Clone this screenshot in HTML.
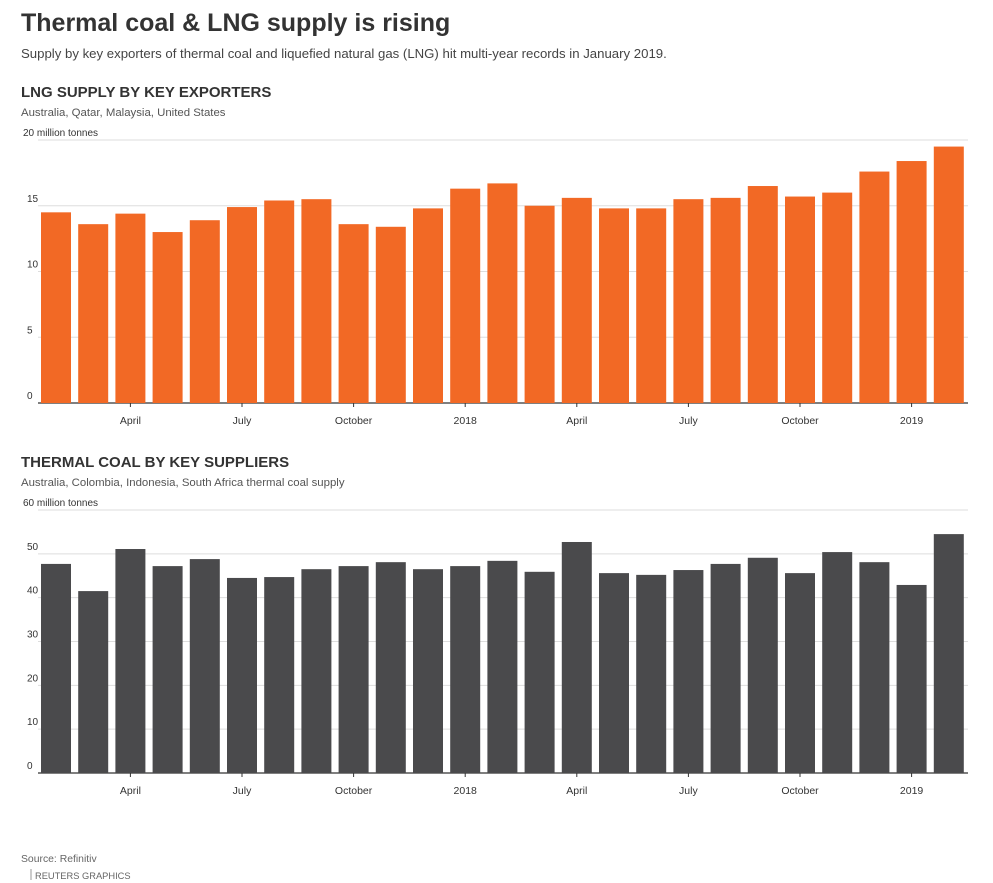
<!DOCTYPE html>
<html><head><meta charset="utf-8">
<style>
body{margin:0;background:#fff;font-family:"Liberation Sans",sans-serif;color:#333;}
svg{display:block}
</style></head>
<body>
<svg id="c" width="993" height="883" xmlns="http://www.w3.org/2000/svg">
<text x="21" y="31" font-size="25" font-weight="bold" fill="#333">Thermal coal &amp; LNG supply is rising</text>
<text x="21" y="58" font-size="13.2" fill="#444">Supply by key exporters of thermal coal and liquefied natural gas (LNG) hit multi-year records in January 2019.</text>
<text x="21" y="97" font-size="15" font-weight="bold" fill="#333">LNG SUPPLY BY KEY EXPORTERS</text>
<text x="21" y="116" font-size="11.4" fill="#555">Australia, Qatar, Malaysia, United States</text>
<text x="21" y="467" font-size="15" font-weight="bold" fill="#333">THERMAL COAL BY KEY SUPPLIERS</text>
<text x="21" y="486" font-size="11.4" fill="#555">Australia, Colombia, Indonesia, South Africa thermal coal supply</text>
<text x="21" y="862" font-size="10.4" fill="#666">Source: Refinitiv</text>
<line x1="31" y1="869" x2="31" y2="880" stroke="#999"/>
<text x="35" y="879" font-size="9.3" fill="#666">REUTERS GRAPHICS</text>
<g id="g1"></g><g id="g2"></g>
</svg>
<script>
var lngValues=[14.5,13.6,14.4,13.0,13.9,14.9,15.4,15.5,13.6,13.4,14.8,16.3,16.7,15.0,15.6,14.8,14.8,15.5,15.6,16.5,15.7,16.0,17.6,18.4,19.5];
var coalValues=[47.7,41.5,51.1,47.2,48.8,44.5,44.7,46.5,47.2,48.1,46.5,47.2,48.4,45.9,52.7,45.6,45.2,46.3,47.7,49.1,45.6,50.4,48.1,42.9,54.5];
var xLabels=["April","July","October","2018","April","July","October","2019"];
var lngTicks=[0,5,10,15,20];
var coalTicks=[0,10,20,30,40,50,60];
var NS="http://www.w3.org/2000/svg";
function mk(g,t,a){var e=document.createElementNS(NS,t);for(var k in a)e.setAttribute(k,a[k]);g.appendChild(e);return e;}
function draw(gid,vals,ticks,max,unit,y0,yTop,color,nm){
  var g=document.getElementById(gid);
  var x0=38,x1=968,step=37.2,first=56,bw=30;
  function y(v){return y0-(v/max)*(y0-yTop);}
  function xc(i){return first+i*step;}
  ticks.forEach(function(t){
    var l=mk(g,'line',{x1:x0,x2:x1,y1:y(t),y2:y(t),stroke:t===0?'#333':'#ddd','stroke-width':t===0?1.2:1});
    
    
    var tx=mk(g,'text',{x:t===max?23:27,y:y(t)-4,'font-size':10,fill:'#333'});
    tx.textContent=t===max?(t+' '+unit):t;
    
    
  });
  vals.forEach(function(v,i){
    var r=mk(g,'rect',{x:xc(i)-bw/2,y:y(v),width:bw,height:y0-y(v),fill:color});
    
    
  });
  xLabels.forEach(function(s,k){
    var xx=xc(2+3*k);
    var tk=mk(g,'line',{x1:xx,x2:xx,y1:y0,y2:y0+4,stroke:'#333'});
    
    
    var tx=mk(g,'text',{x:xx,y:y0+21,'font-size':10.5,fill:'#333','text-anchor':'middle'});
    tx.textContent=s;
    
    
  });
}
draw('g1',lngValues,lngTicks,20,'million tonnes',403,140,'#f26925','lng');
draw('g2',coalValues,coalTicks,60,'million tonnes',773,510,'#4a4a4c','coal');
</script>
</body></html>
